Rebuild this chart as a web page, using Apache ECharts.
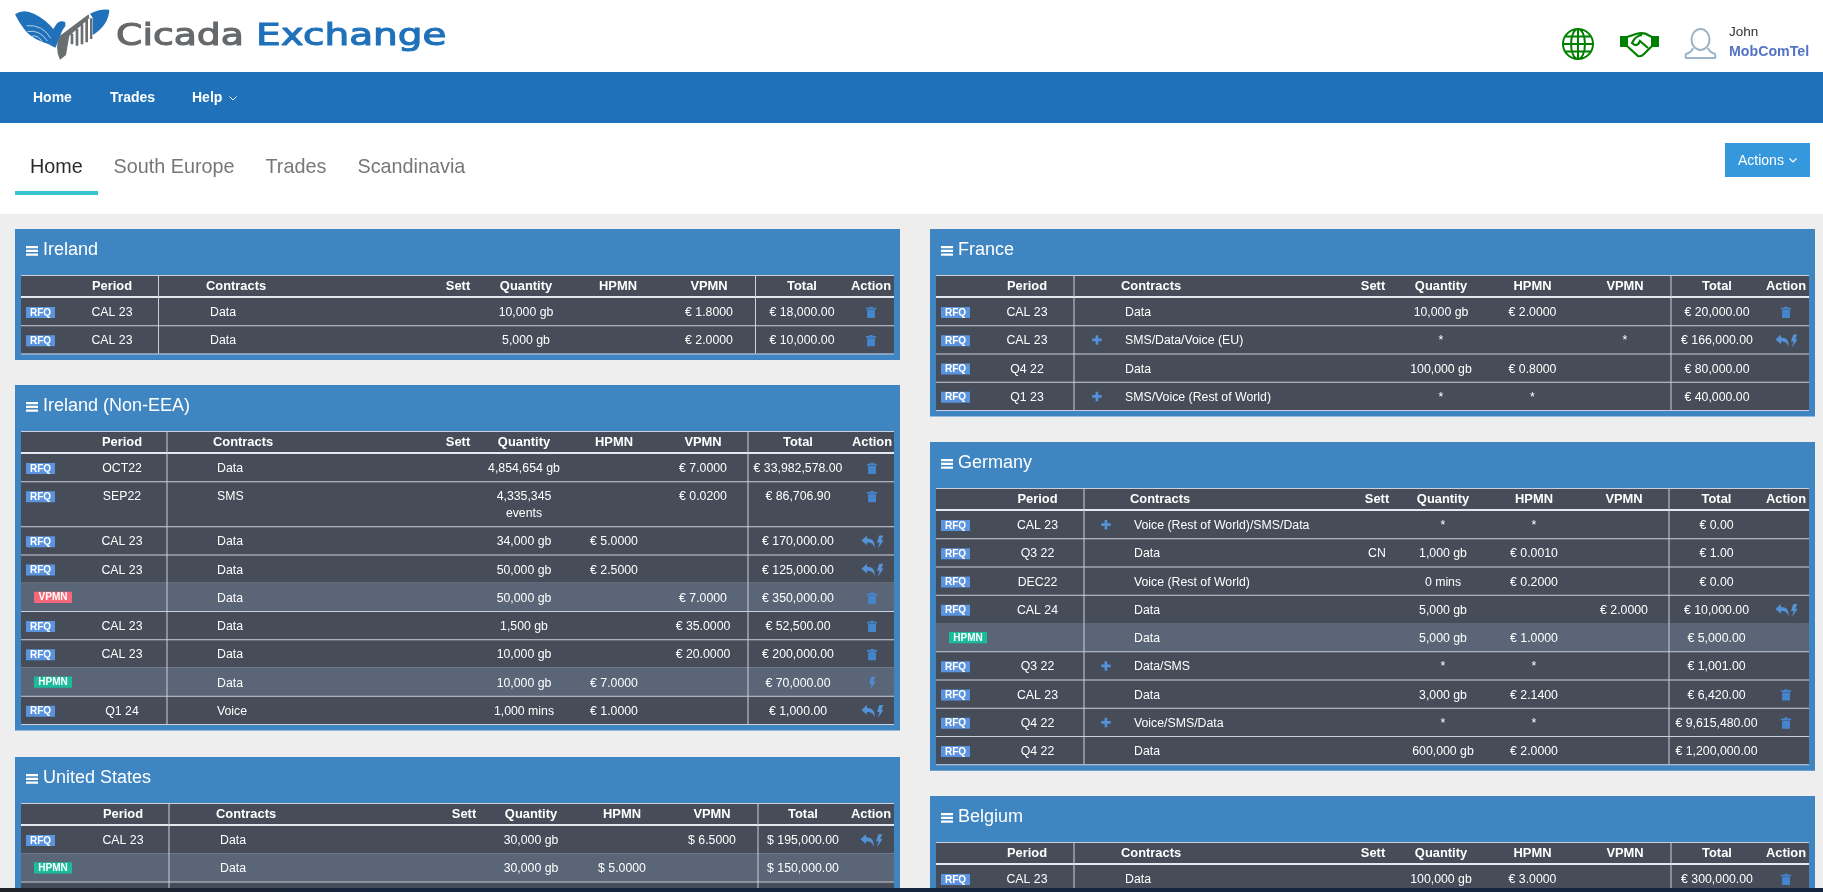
<!DOCTYPE html>
<html>
<head>
<meta charset="UTF-8">
<title>Cicada Exchange</title>
<style>
html, body { margin: 0; padding: 0; background: #eeeeee; }
#main { width: 1823px; height: 892px; }
</style>
</head>
<body>
<div id="main"></div>
<script src="https://cdn.jsdelivr.net/npm/echarts@6/dist/echarts.min.js"></script>
<script>
// table content
var tableHeads = ['Period', 'Contracts', 'Sett', 'Quantity', 'HPMN', 'VPMN', 'Total', 'Action'];
var navItems = ['Home', 'Trades', 'Help'];
var tabItems = ['Home', 'South Europe', 'Trades', 'Scandinavia'];

// label, period, plus, contract, sett, quantity, hpmn, vpmn, total, actions
var irelandRows = [
  ['RFQ', 'CAL 23', 0, 'Data', '', '10,000 gb', '', '€ 1.8000', '€ 18,000.00', 'trash'],
  ['RFQ', 'CAL 23', 0, 'Data', '', '5,000 gb', '', '€ 2.0000', '€ 10,000.00', 'trash']
];
var nonEeaRows = [
  ['RFQ', 'OCT22', 0, 'Data', '', '4,854,654 gb', '', '€ 7.0000', '€ 33,982,578.00', 'trash'],
  ['RFQ', 'SEP22', 0, 'SMS', '', '4,335,345\nevents', '', '€ 0.0200', '€ 86,706.90', 'trash'],
  ['RFQ', 'CAL 23', 0, 'Data', '', '34,000 gb', '€ 5.0000', '', '€ 170,000.00', 'reply'],
  ['RFQ', 'CAL 23', 0, 'Data', '', '50,000 gb', '€ 2.5000', '', '€ 125,000.00', 'reply'],
  ['VPMN', '', 0, 'Data', '', '50,000 gb', '', '€ 7.0000', '€ 350,000.00', 'trash'],
  ['RFQ', 'CAL 23', 0, 'Data', '', '1,500 gb', '', '€ 35.0000', '€ 52,500.00', 'trash'],
  ['RFQ', 'CAL 23', 0, 'Data', '', '10,000 gb', '', '€ 20.0000', '€ 200,000.00', 'trash'],
  ['HPMN', '', 0, 'Data', '', '10,000 gb', '€ 7.0000', '', '€ 70,000.00', 'bolt'],
  ['RFQ', 'Q1 24', 0, 'Voice', '', '1,000 mins', '€ 1.0000', '', '€ 1,000.00', 'reply']
];
var usRows = [
  ['RFQ', 'CAL 23', 0, 'Data', '', '30,000 gb', '', '$ 6.5000', '$ 195,000.00', 'reply'],
  ['HPMN', '', 0, 'Data', '', '30,000 gb', '$ 5.0000', '', '$ 150,000.00', ''],
  ['', '', 0, '', '', '', '', '', '', '']
];
var franceRows = [
  ['RFQ', 'CAL 23', 0, 'Data', '', '10,000 gb', '€ 2.0000', '', '€ 20,000.00', 'trash'],
  ['RFQ', 'CAL 23', 1, 'SMS/Data/Voice (EU)', '', '*', '', '*', '€ 166,000.00', 'reply'],
  ['RFQ', 'Q4 22', 0, 'Data', '', '100,000 gb', '€ 0.8000', '', '€ 80,000.00', ''],
  ['RFQ', 'Q1 23', 1, 'SMS/Voice (Rest of World)', '', '*', '*', '', '€ 40,000.00', '']
];
var germanyRows = [
  ['RFQ', 'CAL 23', 1, 'Voice (Rest of World)/SMS/Data', '', '*', '*', '', '€ 0.00', ''],
  ['RFQ', 'Q3 22', 0, 'Data', 'CN', '1,000 gb', '€ 0.0010', '', '€ 1.00', ''],
  ['RFQ', 'DEC22', 0, 'Voice (Rest of World)', '', '0 mins', '€ 0.2000', '', '€ 0.00', ''],
  ['RFQ', 'CAL 24', 0, 'Data', '', '5,000 gb', '', '€ 2.0000', '€ 10,000.00', 'reply'],
  ['HPMN', '', 0, 'Data', '', '5,000 gb', '€ 1.0000', '', '€ 5,000.00', ''],
  ['RFQ', 'Q3 22', 1, 'Data/SMS', '', '*', '*', '', '€ 1,001.00', ''],
  ['RFQ', 'CAL 23', 0, 'Data', '', '3,000 gb', '€ 2.1400', '', '€ 6,420.00', 'trash'],
  ['RFQ', 'Q4 22', 1, 'Voice/SMS/Data', '', '*', '*', '', '€ 9,615,480.00', 'trash'],
  ['RFQ', 'Q4 22', 0, 'Data', '', '600,000 gb', '€ 2.0000', '', '€ 1,200,000.00', '']
];
var belgiumRows = [
  ['RFQ', 'CAL 23', 0, 'Data', '', '100,000 gb', '€ 3.0000', '', '€ 300,000.00', 'trash']
];

var FONT = '"Liberation Sans", Arial, sans-serif';
var PANEL_BLUE = '#3f85c1', TABLE_DARK = '#464d59', ROW_LIGHT = '#5a6677', LINE = '#ccd0dc', ICON_BLUE = '#5593d8';
var labelColors = { RFQ: '#5b94de', VPMN: '#f3697a', HPMN: '#1abc9c' };

var ICONS = {
  trash: 'M3,0H6V1H9V2.4H0V1H3ZM1,3H8V10H1Z',
  reply: 'M0,4.5L5,0V2.7C10,2.7 12.5,5.5 12,11.5C11,8 9,6.4 5,6.4V9Z',
  bolt: 'M2.2,0H6L4,4.6H6.2L1,12.5L2.4,6.6H0Z',
  plus: 'M3.4,0H6V3.4H9.5V6H6V9.5H3.4V6H0V3.4H3.4Z',
  menu: 'M0,0H12V2.2H0ZM0,3.8H12V6H0ZM0,7.6H12V9.8H0Z'
};

var els = [];

function rect(x, y, w, h, fill) {
  els.push({ type: 'rect', shape: { x: x, y: y, width: w, height: h }, style: { fill: fill } });
}
function text(str, x, y, size, fill, align, weight) {
  if (!str) return;
  els.push({
    type: 'text', x: x, y: y + 1,
    style: {
      text: str, fill: fill, fontSize: size, fontFamily: FONT, fontWeight: weight || 'normal',
      align: align || 'left', verticalAlign: 'middle'
    }
  });
}
function icon(d, x, y, fill, sc) {
  els.push({ type: 'path', x: x, y: y, scaleX: sc || 1, scaleY: sc || 1, shape: { pathData: d }, style: { fill: fill } });
}
function strokePath(d, x, y, sc, color, lw) {
  els.push({ type: 'path', x: x, y: y, scaleX: sc, scaleY: sc, shape: { pathData: d }, style: { fill: 'none', stroke: color, lineWidth: lw } });
}

function drawPanel(title, rows, p) {
  var headY = p.top + 46;
  var bodyY = headY + 22;
  var y = bodyY, i;
  var heights = rows.map(function (r) { return r[5].indexOf('\n') >= 0 ? 45 : 28.25; });
  var tableEnd = bodyY + heights.reduce(function (a, b) { return a + b; }, 0);

  rect(p.x, p.top, 885, tableEnd + 6.5 - p.top, PANEL_BLUE);
  icon(ICONS.menu, p.x + 11, p.top + 17, '#ffffff');
  text(title, p.x + 28, p.top + 20, 18, '#ffffff');

  rect(p.x + 6, headY, 873, tableEnd - headY, TABLE_DARK);
  rect(p.x + 6, headY, 873, 1, LINE);
  text(tableHeads[0], p.period, headY + 10, 12.9, '#ffffff', 'center', 'bold');
  text(tableHeads[1], p.head, headY + 10, 12.9, '#ffffff', 'left', 'bold');
  [p.sett, p.qty, p.hpmn, p.vpmn, p.total, p.action].forEach(function (cx, k) {
    text(tableHeads[k + 2], cx, headY + 10, 12.9, '#ffffff', 'center', 'bold');
  });

  for (i = 0; i < rows.length; i++) {
    var r = rows[i], h = heights[i], mid = y + 14.7;
    if (r[0] && r[0] !== 'RFQ') rect(p.x + 6, y, 873, h, ROW_LIGHT);
    if (r[0] === 'RFQ') {
      rect(p.x + 11, y + 10, 29, 11, labelColors.RFQ);
      text('RFQ', p.x + 25.5, y + 14.9, 10, '#ffffff', 'center', 'bold');
    } else if (r[0]) {
      rect(p.x + 19, y + 9, 38, 11.3, labelColors[r[0]]);
      text(r[0], p.x + 38, y + 13.8, 10, '#ffffff', 'center', 'bold');
    }
    text(r[1], p.period, mid, 12.3, '#ffffff', 'center');
    if (r[2]) icon(ICONS.plus, p.plus - 4.8, mid - 4.8, ICON_BLUE);
    text(r[3], p.cell, mid, 12.3, '#ffffff');
    text(r[4], p.sett, mid, 12.3, '#ffffff', 'center');
    r[5].split('\n').forEach(function (line, k) { text(line, p.qty, mid + k * 17, 12.3, '#ffffff', 'center'); });
    text(r[6], p.hpmn, mid, 12.3, '#ffffff', 'center');
    text(r[7], p.vpmn, mid, 12.3, '#ffffff', 'center');
    text(r[8], p.total, mid, 12.3, '#ffffff', 'center');
    if (r[9] === 'trash') icon(ICONS.trash, p.action - 5, mid - 5, '#4585cd', 1.12);
    if (r[9] === 'reply') {
      icon(ICONS.reply, p.action - 10.5, mid - 5.5, ICON_BLUE, 1.1);
      icon(ICONS.bolt, p.action + 5, mid - 5.5, ICON_BLUE, 1.05);
    }
    if (r[9] === 'bolt') icon(ICONS.bolt, p.action - 3, mid - 5.5, '#4f8cd0', 1.05);
    y += h;
    rect(p.x + 6, y, 873, 1, LINE);
  }
  // header rule and column dividers go on top of the rows
  rect(p.x + 6, bodyY - 1, 873, 2, '#e4e9f0');
  rect(p.v1, headY, 1, tableEnd - headY, LINE);
  rect(p.v2, headY, 1, tableEnd - headY, LINE);
}

function drawHeader() {
  rect(0, 0, 1823, 214, '#ffffff');
  rect(0, 72, 1823, 51, '#1f72ba');

  // logo
  var lg = 1 / 3;
  icon('M15,28Q40,10 72,26Q108,44 130,72L140,56Q152,44 166,52L166,64Q156,74 150,96L136,128Q118,116 95,110Q60,96 44,74Q26,52 15,28Z' +
    'M240,26Q270,10 298,14Q296,60 248,90L248,38Z', 10, 5, '#1f72ba', lg);
  strokePath('M50,62Q98,58 122,100M52,80Q88,72 112,108M64,94Q84,88 98,112', 10, 5, lg, '#ffffff', 2);
  icon('M150,92L236,28L238,40L178,92L168,150L150,164Q132,126 150,92Z' +
    'M182,86H190V118H182ZM197,72H205V122H197ZM212,58H220V118H212ZM226,44H234V112H226ZM240,40H247V102H240Z', 10, 5, '#6a6e70', lg);
  els.push({ type: 'text', x: 116, y: 37, scaleX: 1.26, style: { text: 'Cicada', fill: '#66696b', stroke: '#66696b', lineWidth: 1.1, fontSize: 30, fontFamily: '"DejaVu Sans"', verticalAlign: 'middle' } });
  els.push({ type: 'text', x: 256, y: 37, scaleX: 1.3, style: { text: 'Exchange', fill: '#1f72ba', stroke: '#1f72ba', lineWidth: 1.1, fontSize: 30, fontFamily: '"DejaVu Sans"', verticalAlign: 'middle' } });

  // top right icons
  strokePath('M15,0A15,15 0 1 0 15.01,0ZM15,0A7,15 0 1 0 15.01,0ZM15,0V30M0,15H30M2.5,7.5H27.5M2.5,22.5H27.5', 1563, 29, 1, '#008000', 2);
  icon('M0,4H8V15H0ZM31,4H39V15H31Z', 1620, 32, '#008000');
  strokePath('M7,5L16,2Q24,0 28,3L32,5M7,14L18,24Q21,25 24,22L32,14M22,3Q15,4 12,11Q17,16 20,9L28,16', 1620, 32, 1, '#008000', 2.2);
  strokePath('M15.5,1A9,10.5 0 1 0 15.51,1ZM8,20Q7,24 1,26Q0,28 1,30H30Q31,28 30,26Q24,24 23,20', 1685, 28, 1, '#9db3c7', 2);
  text('John', 1729, 31, 13.5, '#333333');
  text('MobComTel', 1729, 51, 14.2, '#5272c4', 'left', 'bold');

  // nav bar
  text(navItems[0], 33, 97.5, 14, '#ffffff', 'left', 'bold');
  text(navItems[1], 110, 97.5, 14, '#ffffff', 'left', 'bold');
  text(navItems[2], 192, 97.5, 14, '#ffffff', 'left', 'bold');
  strokePath('M0,0L3.5,3.5L7,0', 229.5, 96.5, 1, '#ffffff', 1);

  // tabs
  text(tabItems[0], 30, 167, 19.8, '#2b2b2b');
  text(tabItems[1], 113.5, 167, 19.8, '#777777');
  text(tabItems[2], 265.5, 167, 19.8, '#777777');
  text(tabItems[3], 357.5, 167, 19.8, '#777777');
  rect(15, 191, 83, 4, '#36c6d3');
  rect(1725, 143, 85, 34, '#3598dc');
  text('Actions', 1738, 160, 14, '#ffffff');
  strokePath('M0,0L3.5,3.5L7,0', 1789.5, 158.5, 1, '#ffffff', 1.2);
}

drawHeader();
drawPanel('Ireland', irelandRows, { x: 15, top: 229, period: 112, v1: 158, head: 206, cell: 210, plus: 0, sett: 458, qty: 526, hpmn: 618, vpmn: 709, v2: 755, total: 802, action: 871 });
drawPanel('Ireland (Non-EEA)', nonEeaRows, { x: 15, top: 385, period: 122, v1: 166.5, head: 213, cell: 217, plus: 0, sett: 458, qty: 524, hpmn: 614, vpmn: 703, v2: 747.5, total: 798, action: 872 });
drawPanel('United States', usRows, { x: 15, top: 757, period: 123, v1: 168.5, head: 216, cell: 220, plus: 0, sett: 464, qty: 531, hpmn: 622, vpmn: 712, v2: 757.5, total: 803, action: 871 });
drawPanel('France', franceRows, { x: 930, top: 229, period: 1027, v1: 1073.5, head: 1121, cell: 1125, plus: 1097, sett: 1373, qty: 1441, hpmn: 1532.5, vpmn: 1625, v2: 1670.5, total: 1717, action: 1786 });
drawPanel('Germany', germanyRows, { x: 930, top: 442, period: 1037.5, v1: 1083.5, head: 1130, cell: 1134, plus: 1106, sett: 1377, qty: 1443, hpmn: 1534, vpmn: 1624, v2: 1668.5, total: 1716.5, action: 1786 });
drawPanel('Belgium', belgiumRows, { x: 930, top: 796, period: 1027, v1: 1073.5, head: 1121, cell: 1125, plus: 1097, sett: 1373, qty: 1441, hpmn: 1532.5, vpmn: 1625, v2: 1670.5, total: 1717, action: 1786 });

// dark strip along the bottom edge of the screenshot
els.push({
  type: 'rect', shape: { x: 0, y: 888, width: 1823, height: 4 },
  style: { fill: new echarts.graphic.LinearGradient(0, 0, 1, 0, [{ offset: 0, color: '#202329' }, { offset: 0.2, color: '#16243c' }, { offset: 1, color: '#152440' }]) }
});

var myChart = echarts.init(document.getElementById('main'));
myChart.setOption({
  animation: false,
  backgroundColor: '#eeeeee',
  series: [{
    type: 'custom',
    coordinateSystem: 'none',
    silent: true,
    data: [[0]],
    renderItem: function () {
      return { type: 'group', children: els };
    }
  }]
});
</script>
</body>
</html>
